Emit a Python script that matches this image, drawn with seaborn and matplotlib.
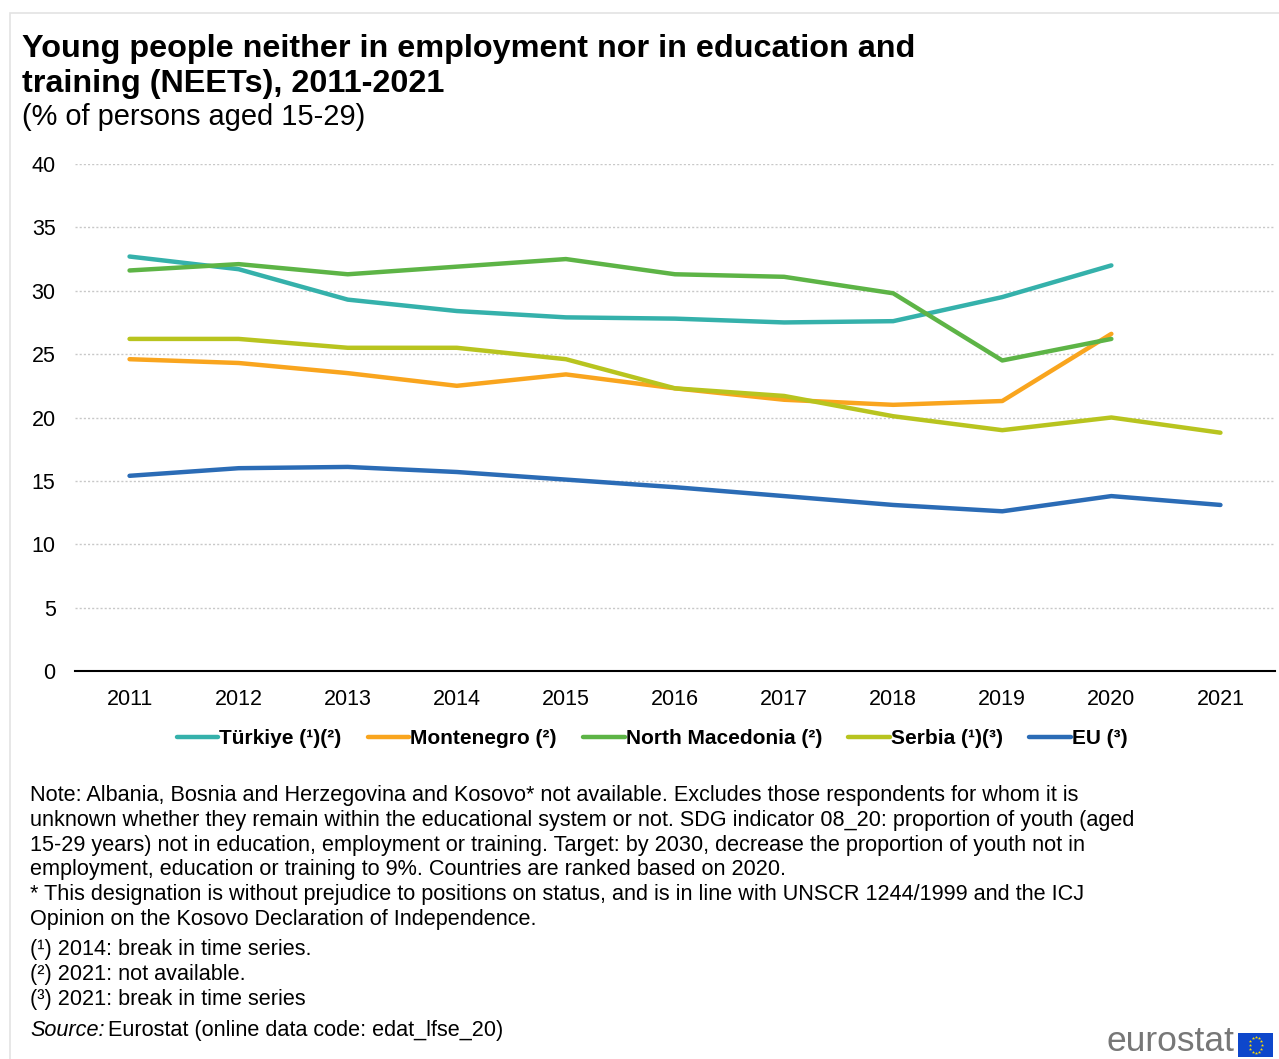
import numpy as np
import pandas as pd
import matplotlib
matplotlib.use("Agg")
import matplotlib.pyplot as plt
import seaborn as sns
from matplotlib.patches import Rectangle
from matplotlib.lines import Line2D

years = [2011, 2012, 2013, 2014, 2015, 2016, 2017, 2018, 2019, 2020, 2021]
turkiye = [32.7, 31.7, 29.3, 28.4, 27.9, 27.8, 27.5, 27.6, 29.5, 32.0, np.nan]
montenegro = [24.6, 24.3, 23.5, 22.5, 23.4, 22.3, 21.4, 21.0, 21.3, 26.6, np.nan]
north_macedonia = [31.6, 32.1, 31.3, 31.9, 32.5, 31.3, 31.1, 29.8, 24.5, 26.2, np.nan]
serbia = [26.2, 26.2, 25.5, 25.5, 24.6, 22.3, 21.7, 20.1, 19.0, 20.0, 18.8]
eu = [15.4, 16.0, 16.1, 15.7, 15.1, 14.5, 13.8, 13.1, 12.6, 13.8, 13.1]

series_names = ["Türkiye (¹)(²)", "Montenegro (²)", "North Macedonia (²)", "Serbia (¹)(³)", "EU (³)"]
series_values = [turkiye, montenegro, north_macedonia, serbia, eu]
colors = ["#35B1AB", "#F9A51E", "#5DB446", "#B8C41F", "#2B6CB6"]

rows = []
for name, vals in zip(series_names, series_values):
    for y, v in zip(years, vals):
        rows.append({"year": y, "value": v, "series": name})
df = pd.DataFrame(rows).dropna()

sns.set_theme(style="white")
plt.rcParams['font.family'] = ['Liberation Sans', 'DejaVu Sans']
plt.rcParams['text.color'] = '#000000'

fig = plt.figure(figsize=(12.79, 10.59), dpi=100)
W, H = 1279, 1059

# light frame
fig.add_artist(Rectangle((10 / W, -0.01), 1.05, 1 - 13 / H + 0.01, transform=fig.transFigure,
                         fill=False, edgecolor="#E3E3E3", linewidth=1.2))

ax = fig.add_axes([75 / W, 1 - 671 / H, (1275 - 75) / W, (671 - 164) / H])
sns.lineplot(data=df, x="year", y="value", hue="series", hue_order=series_names,
             palette=colors, linewidth=3.2, ax=ax, legend=False, sort=False)

ax.set_xlim(2010.5, 2021.5)
ax.set_ylim(0, 40)
ax.set_yticks(range(0, 41, 5))
ax.set_xticks(years)
ax.set_xticks(np.arange(2010.5, 2022, 1.0), minor=True)
ax.tick_params(axis="x", which="major", length=0, pad=13, labelsize=15.5, colors="#000000")
ax.tick_params(axis="x", which="minor", length=7, width=1.2, color="#000000", direction="out")
ax.tick_params(axis="y", length=0, pad=14, labelsize=15.5, colors="#000000")
ax.set_xlabel("")
ax.set_ylabel("")
ax.yaxis.grid(True, linestyle=(0, (1.5, 1.5)), color="#C8C8C8", linewidth=1.0)
ax.set_axisbelow(True)
for s in ["left", "right", "top"]:
    ax.spines[s].set_visible(False)
ax.spines["bottom"].set_color("#000000")
ax.spines["bottom"].set_linewidth(1.5)

# legend
handles = [Line2D([0], [0], color=c, linewidth=3.2) for c in colors]
leg = fig.legend(handles, series_names, loc="center", bbox_to_anchor=(652 / W, 1 - 739 / H),
                 ncol=5, frameon=False, handlelength=2.0, handletextpad=0.05, columnspacing=1.25,
                 prop={"weight": "bold", "size": 15}, labelcolor="#000000")

# titles
fig.text(22 / W, 1 - 92 / H, "Young people neither in employment nor in education and\ntraining (NEETs), 2011-2021",
         fontsize=23.3, fontweight="bold", ha="left", va="baseline", linespacing=1.2, color="#000000")
fig.text(22 / W, 1 - 125 / H, "(% of persons aged 15-29)", fontsize=20.9, ha="left", va="baseline",
         color="#000000")

notes = [
    (801, "Note: Albania, Bosnia and Herzegovina and Kosovo* not available. Excludes those respondents for whom it is"),
    (826, "unknown whether they remain within the educational system or not. SDG indicator 08_20: proportion of youth (aged"),
    (851, "15-29 years) not in education, employment or training. Target: by 2030, decrease the proportion of youth not in"),
    (875, "employment, education or training to 9%. Countries are ranked based on 2020."),
    (900, "* This designation is without prejudice to positions on status, and is in line with UNSCR 1244/1999 and the ICJ"),
    (925, "Opinion on the Kosovo Declaration of Independence."),
    (955, "(¹) 2014: break in time series."),
    (980, "(²) 2021: not available."),
    (1005, "(³) 2021: break in time series"),
]
fs_note = 15.6
for yy, t in notes:
    fig.text(30 / W, 1 - yy / H, t, fontsize=fs_note, ha="left", va="baseline", color="#000000")
t1 = fig.text(30 / W, 1 - 1036 / H, "Source:", fontsize=fs_note, style="italic", ha="left", va="baseline",
              color="#000000")
fig.canvas.draw()
bb = t1.get_window_extent()
fig.text((bb.x1 + 4) / W, 1 - 1036 / H, "Eurostat (online data code: edat_lfse_20)", fontsize=fs_note,
         ha="left", va="baseline", color="#000000")

# eurostat logo
fig.text(1235 / W, 1 / H, "eurostat", fontsize=25.5, color="#777777", ha="right", va="bottom")
lax = fig.add_axes([1238 / W, 1 - 1057 / H, 35 / W, 24 / H])
lax.add_patch(Rectangle((0, 0), 1, 1, color="#0E47CB", transform=lax.transAxes))
ang = np.linspace(0, 2 * np.pi, 12, endpoint=False)
lax.scatter(0.5 + 0.25 * np.cos(ang) * 24 / 35, 0.5 + 0.33 * np.sin(ang), marker="*", s=6,
            color="#FFDD00", linewidths=0, transform=lax.transAxes)
lax.set_xlim(0, 1)
lax.set_ylim(0, 1)
lax.axis("off")

fig.savefig("out.png", dpi=100, facecolor="white")
